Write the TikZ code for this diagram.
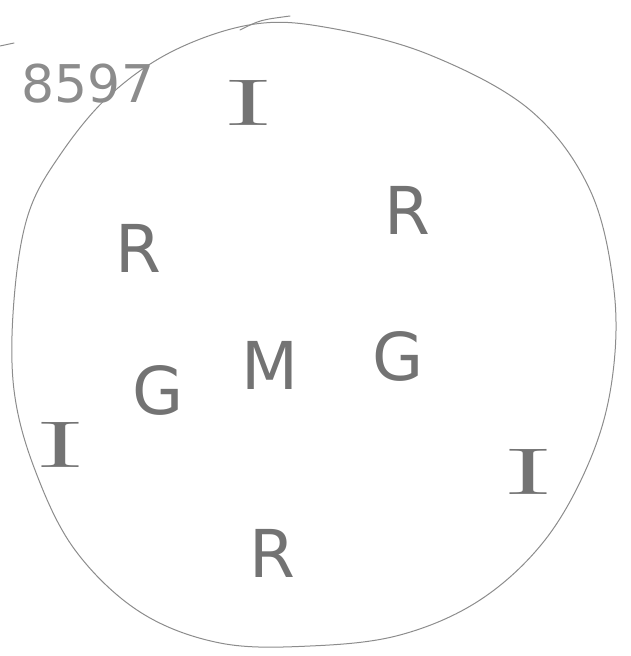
\documentclass[tikz,border=0pt]{standalone}
\usepackage{fontspec}
\setsansfont{DejaVu Sans}
\begin{document}
\begin{tikzpicture}[x=1pt,y=-1pt,
  pencil/.style={draw=black!45,line width=1pt,line cap=round,line join=round},
  letter/.style={text=black!55,font=\sffamily\fontsize{66}{66}\selectfont,inner sep=0pt},
  iletter/.style={text=black!55,font=\rmfamily\fontsize{66}{66}\selectfont,inner sep=0pt},
  numtext/.style={text=black!45,font=\sffamily\fontsize{52}{52}\selectfont,inner sep=0pt}]
\useasboundingbox (0,0) rectangle (630,656);
% outline
\draw[pencil] plot[smooth cycle,tension=0.6] coordinates {
  (255,24) (330,28) (430,55) (530,110) (590,190) (614,290) (612,380)
  (590,460) (545,540) (480,600) (400,635) (310,646) (220,643)
  (140,612) (75,550) (35,470) (14,390) (14,300) (28,215) (60,155)
  (110,95) (175,50)};
\draw[pencil] (240,30) .. controls (260,20) .. (290,16);
\draw[pencil] (0,46) -- (14,43);
% texts
\node[numtext] (num) at (88,84) {8597};
\node[iletter] (i1) at (248,103) {\scalebox{2.4}[1]{I}};
\node[letter] (r1) at (138,248) {R};
\node[letter] (r2) at (407,210) {R};
\node[letter] (m) at (270,365) {M};
\node[letter] (g1) at (158,390) {G};
\node[letter] (g2) at (398,356) {G};
\node[iletter] (i2) at (60,445) {\scalebox{2.4}[1]{I}};
\node[iletter] (i3) at (528,472) {\scalebox{2.4}[1]{I}};
\node[letter] (r3) at (272,553) {R};
\end{tikzpicture}
\end{document}
